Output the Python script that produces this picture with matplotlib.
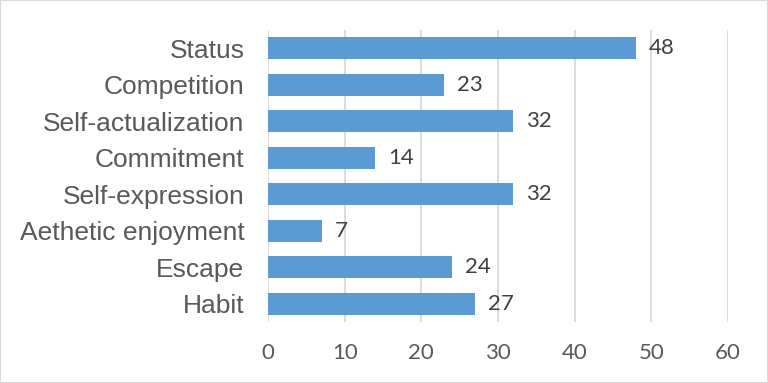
import matplotlib
matplotlib.use("Agg")
import matplotlib.pyplot as plt

categories = ["Status", "Competition", "Self-actualization", "Commitment",
              "Self-expression", "Aethetic enjoyment", "Escape", "Habit"]
values = [48, 23, 32, 14, 32, 7, 24, 27]
xticks = [0, 10, 20, 30, 40, 50, 60]

fig = plt.figure(figsize=(7.68, 3.83), dpi=100)
ax = fig.add_axes([268/768, 1 - 322/383, 460/768, 292/383])

ypos = list(range(len(categories)))
ax.barh(ypos, values, height=0.6, color="#5B9BD5", zorder=3)
ax.set_ylim(len(categories) - 0.5, -0.5)
ax.set_xlim(0, 60)
ax.set_xticks(xticks)
ax.set_xticklabels([str(t) for t in xticks], family="Lato", fontsize=16, color="#595959")
ax.set_yticks(ypos)
ax.set_yticklabels(categories, family="Liberation Sans", fontsize=19, color="#595959")
ax.tick_params(axis="both", length=0)
ax.tick_params(axis="x", pad=15)
ax.tick_params(axis="y", pad=17)
ax.grid(axis="x", color="#D9D9D9", linewidth=1.3, zorder=0)
for s in ax.spines.values():
    s.set_visible(False)

for y, v in zip(ypos, values):
    ax.annotate(str(v), (v, y), xytext=(13, 0), textcoords="offset pixels",
                ha="left", va="center", family="Lato", fontsize=16, color="#404040")

fig.patches.append(plt.Rectangle((0, 0), 1, 1, transform=fig.transFigure,
                                 fill=False, edgecolor="#D9D9D9", linewidth=1.5))
fig.savefig("out.png", dpi=100)
